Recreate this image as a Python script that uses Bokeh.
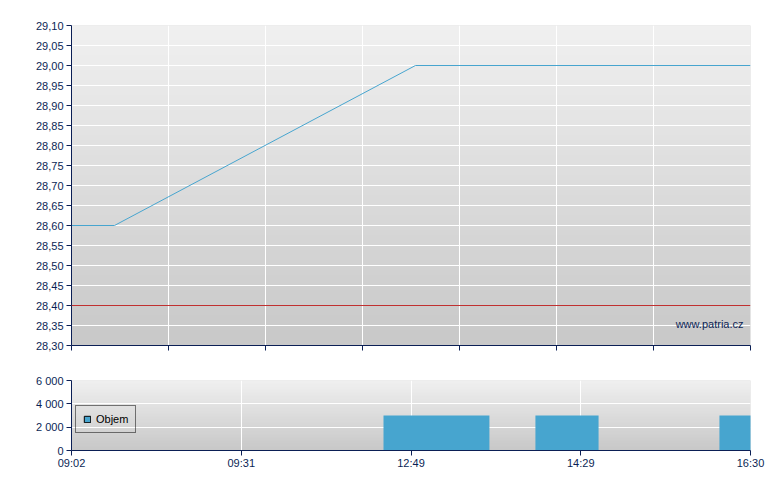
import numpy as np
from bokeh.plotting import figure
from bokeh.layouts import column
from bokeh.models import (Range1d, FixedTicker, Span, Label, Legend, LegendItem, ColumnDataSource,
                          CustomLabelingPolicy)
from bokeh.embed import file_html
from bokeh.resources import INLINE

# ---- data ----
price_x = [0.0, 0.443, 3.546, 7.0]
price_y = [28.60, 28.60, 29.00, 29.00]
ref_price = 28.40

price_ticks = [28.30, 28.35, 28.40, 28.45, 28.50, 28.55, 28.60, 28.65, 28.70, 28.75,
               28.80, 28.85, 28.90, 28.95, 29.00, 29.05, 29.10]
price_labels = ["28,30", "28,35", "28,40", "28,45", "28,50", "28,55", "28,60", "28,65", "28,70", "28,75",
                "28,80", "28,85", "28,90", "28,95", "29,00", "29,05", "29,10"]
top_x_ticks = [0, 1, 2, 3, 4, 5, 6, 7]

time_ticks = [0, 1, 2, 3, 4]
time_labels = ["09:02", "09:31", "12:49", "14:29", "16:30"]

bar_left = [1.838, 2.733, 3.817]
bar_right = [2.462, 3.105, 4.187]
volume = [3000, 3000, 3000]

vol_ticks = [0, 2000, 4000, 6000]
vol_labels = ["0", "2 000", "4 000", "6 000"]

NAVY = "#0b1f55"
BLUE = "#47a5cf"
FONT = "Liberation Sans"


def gradient(n=64, top=240, bottom=200):
    img = np.zeros((n, 1), dtype=np.uint32)
    view = img.view(dtype=np.uint8).reshape((n, 1, 4))
    for i in range(n):
        g = int(round(bottom + (top - bottom) * i / (n - 1)))
        view[i, 0, :] = [g, g, g, 255]
    return img


def style_axes(p):
    for ax in (p.xaxis[0], p.yaxis[0]):
        ax.axis_line_color = NAVY
        ax.major_tick_line_color = NAVY
        ax.major_tick_out = 5
        ax.major_tick_in = 0
        ax.minor_tick_line_color = None
        ax.major_label_text_color = NAVY
        ax.major_label_text_font = FONT
        ax.major_label_text_font_size = "11px"
        ax.major_label_standoff = 3
    p.grid.grid_line_color = "white"
    p.grid.grid_line_width = 1
    p.outline_line_color = None
    p.background_fill_color = "#dcdcdc"
    p.border_fill_color = "white"


# ---- top chart ----
p1 = figure(frame_width=679, frame_height=320, output_backend="svg", toolbar_location=None,
            x_range=Range1d(0, 7), y_range=Range1d(28.30, 29.10),
            min_border_left=71, min_border_right=22, min_border_top=25, min_border_bottom=12)
p1.image_rgba(image=[gradient()], x=0, y=28.30, dw=7, dh=0.80, level="image")
style_axes(p1)
p1.yaxis.ticker = FixedTicker(ticks=price_ticks)
p1.yaxis.major_label_overrides = dict(zip(price_ticks, price_labels))
p1.xaxis.ticker = FixedTicker(ticks=top_x_ticks)
p1.xaxis.major_label_policy = CustomLabelingPolicy(
    code="for (const i of Array.from(indices)) { indices.unset(i) } return indices")
p1.xaxis.major_label_standoff = 0
p1.add_layout(Span(location=ref_price, dimension="width", line_color="#c03030", line_width=1))
p1.line(price_x, price_y, line_color=BLUE, line_width=1)
p1.add_layout(Label(x=7, y=28.30, x_offset=-7, y_offset=22, text="www.patria.cz",
                    text_align="right", text_baseline="alphabetic", text_color=NAVY,
                    text_font=FONT, text_font_size="11px"))

# ---- bottom chart ----
p2 = figure(frame_width=679, frame_height=70, output_backend="svg", toolbar_location=None,
            x_range=Range1d(0, 4), y_range=Range1d(0, 6000),
            min_border_left=71, min_border_right=22, min_border_top=19, min_border_bottom=28)
p2.image_rgba(image=[gradient()], x=0, y=0, dw=4, dh=6000, level="image")
style_axes(p2)
p2.yaxis.ticker = FixedTicker(ticks=vol_ticks)
p2.yaxis.major_label_overrides = dict(zip(vol_ticks, vol_labels))
p2.xaxis.ticker = FixedTicker(ticks=time_ticks)
p2.xaxis.major_label_overrides = dict(zip(time_ticks, time_labels))
p2.xaxis.major_label_standoff = 1

src = ColumnDataSource(dict(left=bar_left, right=bar_right, top=volume, bottom=[0] * len(volume)))
p2.quad(left="left", right="right", top="top", bottom="bottom", source=src,
        fill_color=BLUE, line_color=None)
leg_r = p2.quad(left="left", right="right", top="top", bottom="bottom", source=src,
                fill_color=BLUE, line_color="black", line_width=1, visible=False)
legend = Legend(items=[LegendItem(label="Objem", renderers=[leg_r])], location=(4, 17),
                padding=7, spacing=0, margin=0, label_standoff=5, glyph_width=8, glyph_height=8,
                label_height=12, label_text_font=FONT, label_text_font_size="11px",
                label_text_color="black", border_line_color="black", border_line_width=1,
                background_fill_alpha=0, click_policy="none")
p2.add_layout(legend)

layout = column(p1, p2, spacing=0)
open("out.html", "w").write(file_html(layout, INLINE))
